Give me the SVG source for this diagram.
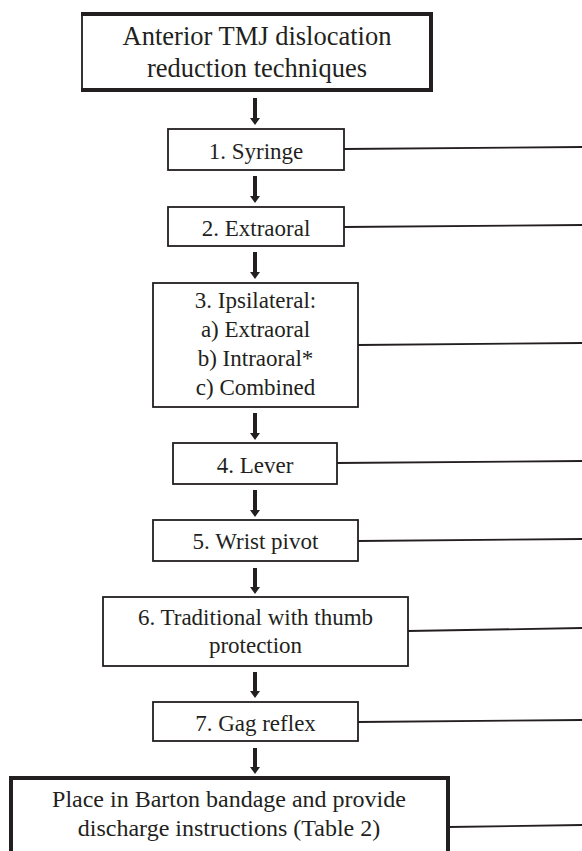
<svg xmlns="http://www.w3.org/2000/svg" width="582" height="851" viewBox="0 0 582 851">
<style>
.box{fill:#fff;stroke:#231f20;stroke-width:1.8}
.thick{fill:none;stroke:#231f20;stroke-width:4}
.conn{stroke:#231f20;stroke-width:1.8;fill:none}
.arr{fill:#231f20}
</style>
<rect width="582" height="851" fill="#fff"/>
<g id="connectors">
<line class="conn" x1="344" y1="149" x2="582" y2="147"/>
<line class="conn" x1="344" y1="227" x2="582" y2="225"/>
<line class="conn" x1="358" y1="345" x2="582" y2="343"/>
<line class="conn" x1="337" y1="463" x2="582" y2="461"/>
<line class="conn" x1="358" y1="541" x2="582" y2="539"/>
<line class="conn" x1="408" y1="631" x2="582" y2="628"/>
<line class="conn" x1="358" y1="722" x2="582" y2="720"/>
<line class="conn" x1="449" y1="827" x2="582" y2="825"/>
<path class="arr" d="M253,98 H257 V118 H260 L255,125 L250,118 H253 Z"/>
<path class="arr" d="M253,176 H257 V196 H260 L255,203 L250,196 H253 Z"/>
<path class="arr" d="M253,252 H257 V272 H260 L255,279 L250,272 H253 Z"/>
<path class="arr" d="M253,413 H257 V433 H260 L255,440 L250,433 H253 Z"/>
<path class="arr" d="M253,490 H257 V510 H260 L255,517 L250,510 H253 Z"/>
<path class="arr" d="M253,568 H257 V587 H260 L255,594 L250,587 H253 Z"/>
<path class="arr" d="M253,672 H257 V691 H260 L255,698 L250,691 H253 Z"/>
<path class="arr" d="M253,748 H257 V767 H260 L255,774 L250,767 H253 Z"/>
</g>
<g font-family="'Liberation Serif', serif" fill="#231f20" text-anchor="middle" font-size="23">
<g id="title">
<rect class="box" x="82" y="14" width="349" height="76"/>
<path class="thick" d="M81,14 H431 V90 H81"/>
<text x="257" y="45" font-size="26.5">Anterior TMJ dislocation</text>
<text x="257" y="77" font-size="26.5">reduction techniques</text>
</g>
<g id="n1">
<rect class="box" x="168" y="129" width="176" height="41"/>
<text x="256" y="159">1. Syringe</text>
</g>
<g id="n2">
<rect class="box" x="168" y="207" width="176" height="39"/>
<text x="256" y="236">2. Extraoral</text>
</g>
<g id="n3">
<rect class="box" x="153" y="283" width="205" height="124"/>
<text x="255.5" y="308">3. Ipsilateral:</text>
<text x="255.5" y="337">a) Extraoral</text>
<text x="255.5" y="366">b) Intraoral*</text>
<text x="255.5" y="395">c) Combined</text>
</g>
<g id="n4">
<rect class="box" x="173" y="443" width="164" height="41"/>
<text x="255" y="473">4. Lever</text>
</g>
<g id="n5">
<rect class="box" x="153" y="520" width="205" height="41"/>
<text x="255.5" y="549">5. Wrist pivot</text>
</g>
<g id="n6">
<rect class="box" x="103" y="597" width="305" height="69"/>
<text x="255.5" y="625">6. Traditional with thumb</text>
<text x="255.5" y="653">protection</text>
</g>
<g id="n7">
<rect class="box" x="153" y="702" width="205" height="39"/>
<text x="255.5" y="731">7. Gag reflex</text>
</g>
<g id="n8">
<path class="thick" d="M11,862 V778 H448 V862"/>
<text x="229" y="807" font-size="24">Place in Barton bandage and provide</text>
<text x="229" y="836" font-size="24">discharge instructions (Table 2)</text>
</g>
</g>
</svg>
